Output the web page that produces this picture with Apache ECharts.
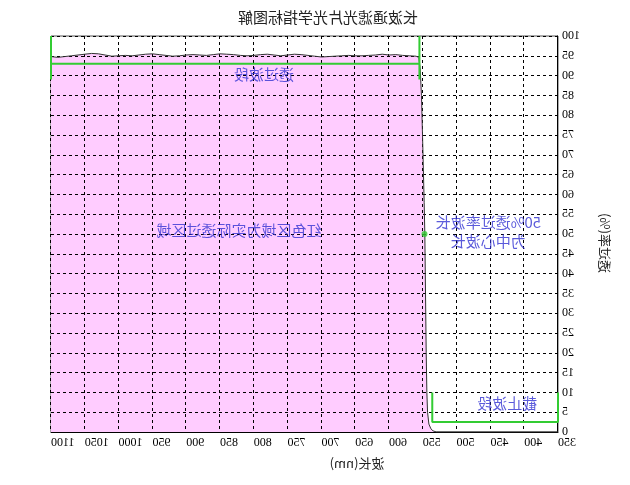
<!DOCTYPE html>
<html>
<head>
<meta charset="utf-8">
<script src="https://cdn.jsdelivr.net/npm/echarts@6/dist/echarts.min.js"></script>
<style>
html,body{margin:0;padding:0;background:#fff;}
#chart{width:630px;height:485px;transform:scaleX(-1);transform-origin:center;}
</style>
</head>
<body>
<div id="chart"></div>
<script>
// ---- data ----
const titleText = '长波通滤光片光学指标图解';
const xName = '波长(nm)';
const yName = '透过率(%)';
const xTicks = [350, 1100, 50];   // min, max, step
const yTicks = [0, 100, 5];

const wavelength = [350, 530, 532, 535, 538, 541, 543, 544, 545, 546, 547, 548, 550, 552, 554, 556,
  560, 570, 580, 590, 600, 610, 620, 630, 640, 650, 660, 670, 680, 690, 700, 710, 720, 730, 740, 750,
  760, 770, 780, 790, 800, 810, 820, 830, 840, 850, 860, 870, 880, 890, 900, 910, 920, 930, 940, 950,
  960, 970, 980, 990, 1000, 1010, 1020, 1030, 1040, 1050, 1060, 1070, 1080, 1090, 1100];
const transmission = [0, 0, 0.1, 0.3, 0.8, 2, 5, 10, 20, 35, 50, 58, 72, 85, 92, 94.6,
  94.9, 95.0, 95.1, 95.3, 95.2, 95.4, 95.2, 95.1, 95.0, 95.0, 95.1, 95.0, 94.9, 94.8, 94.7, 94.9, 95.1, 95.3, 95.4, 95.2,
  95.0, 95.2, 95.4, 95.3, 95.1, 95.0, 95.1, 95.3, 95.4, 95.5, 95.3, 95.1, 95.2, 95.3, 95.2, 95.0, 94.9, 95.1, 95.3, 95.5,
  95.4, 95.2, 95.0, 95.1, 95.0, 94.9, 95.2, 95.5, 95.6, 95.4, 95.2, 95.0, 94.8, 94.6, 94.8];

const passBracketX = [1100, 1100, 1100, 555, 555, 555];
const passBracketY = [100, 89, 93, 93, 100, 89];
const cutBracketX = [536, 536, 350, 350];
const cutBracketY = [10, 2.5, 2.5, 10];

const centerPoint = [547.5, 50];

const annoX = [785, 822, 453, 425];
const annoY = [90.3, 51, 50.6, 7.3];
const annoText = ['透过波段', '红色区域为实际透过区域', '50%透过率波长\n为中心波长', '截止波段'];

// ---- chart ----
const zip = (a, b) => a.map((v, i) => [v, b[i]]);
const curve = zip(wavelength, transmission);
const cjk = '"Noto Sans CJK SC", sans-serif';
const num = '"Liberation Serif", serif';
const green = '#33cc33';
const blue = '#3232d2';

const chart = echarts.init(document.getElementById('chart'), null, {renderer: 'canvas'});
chart.setOption({
  animation: false,
  backgroundColor: '#fff',
  grid: {left: 72, right: 51, top: 36, bottom: 53, show: true, borderColor: '#555', borderWidth: 1, backgroundColor: 'transparent'},
  xAxis: {
    type: 'value', min: xTicks[0], max: xTicks[1], interval: xTicks[2], z: 3,
    axisLine: {show: true, lineStyle: {color: '#000', width: 1}},
    axisTick: {show: false},
    axisLabel: {color: '#000', fontFamily: num, fontSize: 12, margin: 5, align: 'right', formatter: v => String(v)},
    splitLine: {show: true, lineStyle: {color: '#000', type: [3, 3], width: 1}}
  },
  yAxis: {
    type: 'value', min: yTicks[0], max: yTicks[1], interval: yTicks[2], z: 3,
    axisLine: {show: true, lineStyle: {color: '#000', width: 1}},
    axisTick: {show: false},
    axisLabel: {color: '#000', fontFamily: num, fontSize: 12, margin: 4, padding: [0, 0, 5, 0], formatter: v => String(v)},
    splitLine: {show: true, lineStyle: {color: '#000', type: [3, 3], width: 1}}
  },
  graphic: [
    {type: 'text', x: 302, y: 17, style: {text: titleText, font: '15px ' + cjk, fill: '#222', align: 'center', verticalAlign: 'middle'}},
    {type: 'text', x: 273, y: 463, style: {text: xName, font: '13px ' + cjk, fill: '#222', align: 'center', verticalAlign: 'middle'}},
    {type: 'text', x: 25, y: 243, rotation: Math.PI / 2, style: {text: yName, font: '13px ' + cjk, fill: '#222', align: 'center', verticalAlign: 'middle'}}
  ],
  series: [
    {type: 'line', data: curve, symbol: 'none', z: 1, lineStyle: {width: 0}, areaStyle: {color: '#ffccff', opacity: 1}},
    {type: 'line', data: curve, symbol: 'none', z: 5, lineStyle: {color: '#333', width: 1}},
    {type: 'line', data: zip(passBracketX, passBracketY), symbol: 'none', z: 6, lineStyle: {color: green, width: 2}},
    {type: 'line', data: zip(cutBracketX, cutBracketY), symbol: 'none', z: 6, lineStyle: {color: green, width: 2}},
    {type: 'scatter', data: [centerPoint], symbol: 'circle', symbolSize: 6, z: 7, itemStyle: {color: green}},
    {type: 'scatter', z: 8, symbolSize: 0,
      data: annoX.map((x, i) => ({value: [x, annoY[i]], name: annoText[i]})),
      label: {show: true, position: 'inside', formatter: p => p.name, color: blue, fontFamily: cjk, fontSize: 15, lineHeight: 19, align: 'center'}}
  ]
});
</script>
</body>
</html>
